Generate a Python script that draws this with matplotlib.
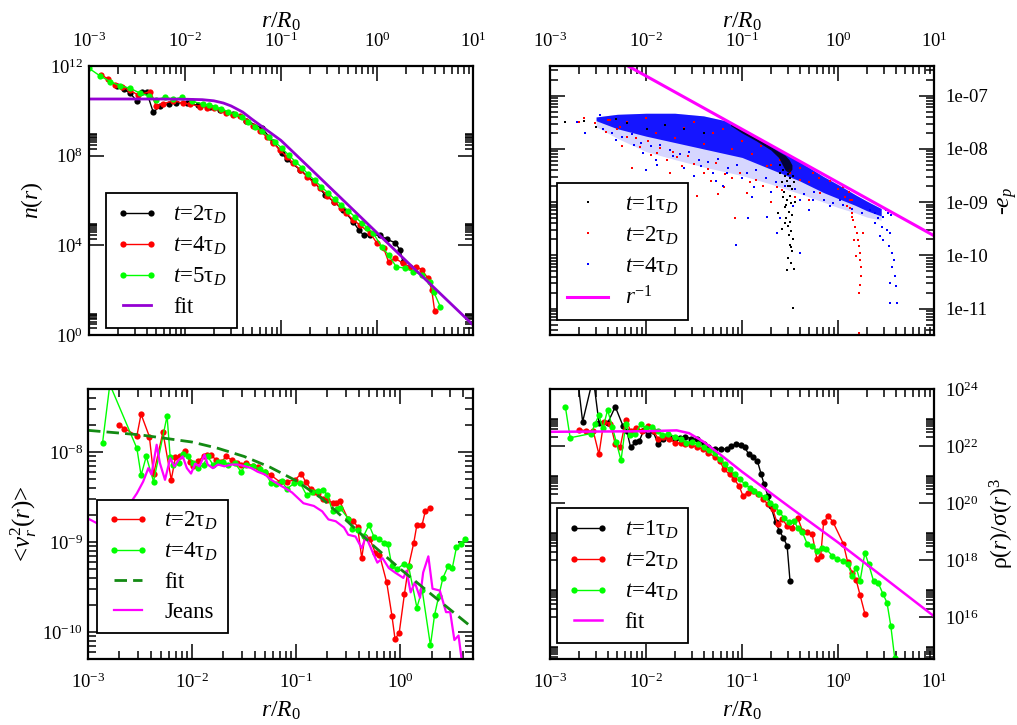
import matplotlib
matplotlib.use('Agg')
import matplotlib.pyplot as plt
from matplotlib.lines import Line2D
from matplotlib.ticker import NullFormatter
import numpy as np

plt.rcParams['font.family'] = 'Liberation Serif'
plt.rcParams['mathtext.fontset'] = 'custom'
plt.rcParams['mathtext.rm'] = 'Liberation Serif'
plt.rcParams['mathtext.it'] = 'Liberation Serif:italic'
plt.rcParams['mathtext.bf'] = 'Liberation Serif:bold'

# all series below are (log10 r/R0, log10 value) pairs

# --- panel n(r) ---
n_t2 = [(-2.71, 11.12), (-2.64, 10.97), (-2.57, 10.79), (-2.50, 10.42), (-2.45, 10.82),
        (-2.40, 10.85), (-2.33, 9.93), (-2.26, 10.22), (-2.17, 10.31), (-2.09, 10.37),
        (-1.98, 10.34), (-1.86, 10.25), (-1.74, 10.16), (-1.64, 10.04), (-1.50, 9.87),
        (-1.36, 9.57), (-1.20, 9.23), (-1.08, 8.63), (-0.99, 8.11), (-0.94, 7.84),
        (-0.80, 7.37), (-0.66, 6.85), (-0.54, 6.25), (-0.45, 5.95), (-0.35, 5.58),
        (-0.25, 5.06), (-0.19, 4.69), (-0.14, 4.46), (-0.07, 4.46), (0.03, 4.46),
        (0.10, 4.27), (0.19, 4.12), (0.24, 3.79), (0.27, 3.27)]
n_t4 = [(-2.87, 11.61), (-2.80, 11.41), (-2.73, 11.16), (-2.66, 11.06), (-2.57, 10.91),
        (-2.49, 10.71), (-2.36, 10.86), (-2.30, 10.22), (-2.23, 10.31), (-2.12, 10.46),
        (-2.02, 10.34), (-1.95, 10.31), (-1.84, 10.19), (-1.77, 10.15), (-1.70, 10.12),
        (-1.63, 10.02), (-1.57, 9.90), (-1.50, 9.82), (-1.43, 9.75), (-1.36, 9.55),
        (-1.29, 9.33), (-1.22, 9.10), (-1.15, 8.85), (-1.08, 8.55), (-1.01, 8.26),
        (-0.94, 7.95), (-0.87, 7.66), (-0.80, 7.36), (-0.73, 7.07), (-0.66, 6.80),
        (-0.59, 6.55), (-0.52, 6.22), (-0.45, 5.95), (-0.38, 5.68), (-0.32, 5.43),
        (-0.25, 5.15), (-0.18, 4.91), (-0.07, 4.54), (0.00, 4.09), (0.07, 3.87),
        (0.12, 3.27), (0.19, 3.42), (0.27, 3.20), (0.34, 3.05), (0.41, 3.05),
        (0.47, 2.90), (0.53, 2.53), (0.57, 2.01), (0.60, 1.09)]
n_t5 = [(-3.00, 11.90), (-2.885, 11.56), (-2.78, 11.31), (-2.68, 11.12), (-2.57, 11.01),
        (-2.47, 10.79), (-2.38, 10.67), (-2.30, 10.49), (-2.21, 10.61), (-2.12, 10.52),
        (-2.03, 10.61), (-1.93, 10.42), (-1.81, 10.31), (-1.75, 10.25), (-1.69, 10.19),
        (-1.62, 10.08), (-1.55, 9.97), (-1.48, 9.86), (-1.41, 9.72), (-1.34, 9.52),
        (-1.27, 9.30), (-1.20, 9.08), (-1.13, 8.85), (-1.06, 8.60), (-0.99, 8.33),
        (-0.92, 8.03), (-0.85, 7.74), (-0.78, 7.46), (-0.72, 7.19), (-0.65, 6.90),
        (-0.58, 6.62), (-0.51, 6.34), (-0.44, 6.06), (-0.37, 5.80), (-0.30, 5.55),
        (-0.23, 5.27), (-0.16, 5.01), (-0.10, 4.78), (-0.04, 4.54), (0.05, 3.94),
        (0.12, 3.57), (0.20, 3.05), (0.29, 2.98), (0.38, 2.83), (0.47, 2.68),
        (0.55, 2.38), (0.59, 1.93), (0.66, 1.26)]
n_fit = [(-3.0, 10.53), (-2.3, 10.53), (-2.0, 10.52), (-1.82, 10.50), (-1.70, 10.45),
         (-1.60, 10.35), (-1.52, 10.22), (-1.40, 9.95), (-1.30, 9.62), (-1.15, 9.15),
         (-1.0, 8.68), (-0.7, 7.45), (-0.3, 5.80), (0.0, 4.56), (0.3, 3.32),
         (0.7, 1.68), (1.0, 0.45)]

# --- panel -e_p (scatter) ---
ep_core_x = [-2.52, -2.30, -2.0, -1.70, -1.40, -1.15, -1.0, -0.70, -0.40, -0.15, 0.0, 0.18, 0.30, 0.45]
ep_core_hi = [-7.40, -7.35, -7.33, -7.33, -7.38, -7.48, -7.64, -7.94, -8.24, -8.52, -8.67, -8.86, -8.98, -9.12]
ep_core_lo = [-7.47, -7.62, -7.76, -7.88, -8.00, -8.10, -8.16, -8.38, -8.60, -8.82, -8.93, -9.06, -9.16, -9.26]
ep_halo_lo = [-7.58, -7.80, -8.05, -8.20, -8.34, -8.44, -8.50, -8.66, -8.84, -9.00, -9.10, -9.20, -9.28, -9.34]
ep_t1_core_x = [-1.12, -1.0, -0.85, -0.70, -0.62, -0.55, -0.51, -0.48]
ep_t1_core_hi = [-7.52, -7.65, -7.80, -7.96, -8.05, -8.12, -8.20, -8.30]
ep_t1_core_lo = [-7.56, -7.70, -7.85, -8.02, -8.16, -8.40, -8.45, -8.38]
ep_t1 = [(-2.84, -7.49), (-2.65, -7.47), (-2.52, -7.58), (-2.31, -7.44), (-2.20, -7.52),
         (-1.99, -7.63), (-1.80, -7.55), (-1.60, -7.62), (-1.40, -7.70),
         (-0.60, -8.45), (-0.55, -8.50), (-0.50, -8.55), (-0.58, -8.62), (-0.52, -8.70),
         (-0.48, -8.75), (-0.56, -8.80), (-0.50, -8.88), (-0.53, -8.95), (-0.49, -9.02),
         (-0.55, -9.10), (-0.51, -9.18), (-0.48, -9.25), (-0.54, -9.30), (-0.50, -9.38),
         (-0.52, -9.45), (-0.49, -9.55), (-0.51, -9.62), (-0.47, -9.70), (-0.50, -9.80),
         (-0.48, -9.92), (-0.52, -10.05), (-0.49, -10.15), (-0.46, -10.25), (-0.53, -10.28),
         (-0.47, -10.98), (-0.58, -9.50), (-0.62, -9.20), (-0.45, -9.00), (-0.57, -8.90),
         (-0.53, -8.60), (-0.50, -8.70), (-0.47, -8.50), (-0.55, -9.40), (-0.49, -9.85),
         (-0.60, -8.30), (-0.57, -8.40), (-0.52, -8.48), (-0.46, -8.62), (-0.54, -9.05)]
ep_t2 = [(-2.70, -7.50), (-2.65, -7.41), (-2.53, -7.52), (-2.48, -7.36), (-2.37, -7.46),
         (-2.27, -7.58), (-2.20, -7.77), (-2.15, -8.36), (-2.06, -7.96), (-1.98, -7.86),
         (-1.89, -8.08), (-1.78, -8.21), (-1.72, -8.05), (-1.63, -8.33), (-1.56, -8.14),
         (-1.47, -8.89), (-1.40, -8.46), (-1.32, -8.61), (-1.27, -8.27), (-1.19, -8.71),
         (-1.07, -9.30), (-1.02, -8.46), (-0.95, -8.83), (-0.85, -8.58), (-0.74, -8.33),
         (-0.64, -8.71), (-0.50, -8.40), (-0.40, -8.58), (-0.26, -8.46), (-0.19, -8.83),
         (-0.08, -8.61),
         (-2.40, -7.45), (-2.20, -7.50), (-2.00, -7.42), (-1.80, -7.55), (-1.60, -7.60),
         (-1.50, -7.50), (-1.30, -7.70), (-1.20, -7.62), (-1.00, -7.85), (-0.80, -7.95),
         (-0.60, -8.20), (-0.40, -8.35), (-0.20, -8.55), (0.00, -8.75), (-2.30, -7.62),
         (-1.90, -7.70), (-1.70, -7.80), (-1.40, -7.90), (-1.10, -8.00), (-0.90, -8.10),
         (-0.70, -8.30), (-0.50, -8.45), (-0.30, -8.62),
         (-2.42, -7.68), (-2.10, -7.80), (-1.85, -7.98), (-1.68, -8.15), (-1.50, -8.28),
         (-1.35, -8.38), (-1.18, -8.48), (-1.10, -8.55), (-0.92, -8.62), (-0.78, -8.70),
         (-0.58, -8.78), (-0.45, -8.90), (-0.30, -8.95), (-1.95, -8.12), (-1.75, -8.45),
         (-1.25, -8.85), (-0.70, -9.00), (-2.25, -7.95),
         (0.05, -8.71), (0.11, -8.80), (0.13, -8.96), (0.09, -9.08), (0.15, -9.21),
         (0.16, -9.33), (0.18, -9.46), (0.20, -9.58), (0.21, -9.71), (0.22, -9.83),
         (0.23, -9.96), (0.23, -10.08), (0.24, -10.21), (0.24, -10.39), (0.23, -10.55),
         (0.22, -10.71), (0.22, -11.45), (0.15, -9.27), (0.12, -9.11), (0.26, -9.58),
         (0.17, -9.71), (0.19, -10.02), (0.15, -8.96), (0.07, -8.90)]
ep_t4 = [(-2.64, -7.71), (-2.72, -7.49), (-2.48, -7.36), (-2.13, -7.93), (-1.89, -8.30),
         (-1.58, -8.68), (-1.27, -8.61), (-1.06, -9.80), (-0.94, -9.30), (-0.74, -9.27),
         (-0.64, -9.58), (-0.40, -9.96), (-0.26, -8.96), (-0.47, -9.08), (-0.88, -8.71),
         (-1.16, -8.46), (-1.43, -8.33), (-1.72, -8.14), (-2.03, -8.08), (-2.31, -7.83),
         (-0.08, -9.08), (0.02, -8.96), (0.50, -9.15), (0.52, -9.20), (0.55, -9.25),
         (-2.45, -7.62), (-2.35, -7.70), (-2.25, -7.78), (-2.15, -7.72), (-2.05, -7.88),
         (-1.95, -7.95), (-1.85, -7.92), (-1.75, -8.02), (-1.65, -8.10), (-1.55, -8.05),
         (-1.45, -8.20), (-1.35, -8.25), (-1.25, -8.18), (-1.15, -8.35), (-1.05, -8.30),
         (-0.95, -8.45), (-0.85, -8.40), (-0.75, -8.55), (-0.65, -8.62), (-0.55, -8.70),
         (-0.45, -8.75), (-0.35, -8.85), (-0.25, -8.80), (-0.15, -8.95), (-0.05, -9.02),
         (0.05, -9.05), (0.15, -9.12), (0.25, -9.20), (-1.90, -8.20), (-1.60, -8.35),
         (-1.30, -8.45), (-1.00, -8.55), (-0.70, -8.80), (-0.40, -8.95), (-2.00, -8.40),
         (-1.20, -8.70), (-0.90, -8.90), (-0.30, -9.15), (-1.50, -8.50), (-0.60, -9.30),
         (0.33, -9.14), (0.39, -9.21), (0.42, -9.30), (0.47, -9.27), (0.46, -9.46),
         (0.51, -9.52), (0.54, -9.58), (0.47, -9.71), (0.53, -9.83), (0.56, -9.96),
         (0.58, -10.08), (0.56, -10.21), (0.59, -10.39), (0.54, -10.52), (0.60, -10.58),
         (0.54, -10.89), (0.61, -10.89), (0.44, -9.64), (0.39, -9.40)]
ep_rinv = [(-3.0, -5.63), (1.0, -9.63)]

# --- panel <v_r^2(r)> ---
v_t2 = [(-2.70, -7.70), (-2.65, -7.74), (-2.53, -7.82), (-2.49, -7.58), (-2.41, -7.83),
        (-2.37, -8.25), (-2.28, -7.78), (-2.20, -8.31), (-2.16, -8.06), (-2.12, -8.05),
        (-2.07, -7.99), (-2.02, -8.11), (-1.99, -8.16), (-1.94, -8.10), (-1.89, -8.05),
        (-1.86, -8.03), (-1.82, -8.03), (-1.77, -8.09), (-1.72, -8.11), (-1.67, -8.05),
        (-1.62, -8.09), (-1.57, -8.12), (-1.53, -8.14), (-1.48, -8.12), (-1.41, -8.16),
        (-1.37, -8.17), (-1.30, -8.22), (-1.24, -8.26), (-1.16, -8.33), (-1.09, -8.33),
        (-1.01, -8.31), (-0.95, -8.24), (-0.91, -8.33), (-0.86, -8.41), (-0.83, -8.45),
        (-0.79, -8.46), (-0.74, -8.52), (-0.70, -8.53), (-0.65, -8.57), (-0.62, -8.57),
        (-0.58, -8.55), (-0.50, -8.75), (-0.45, -8.77), (-0.41, -8.83), (-0.37, -9.18),
        (-0.34, -8.94), (-0.29, -8.97), (-0.24, -9.12), (-0.20, -9.14), (-0.13, -9.45),
        (-0.08, -9.82), (-0.05, -10.08), (-0.01, -10.01), (0.04, -9.58), (0.08, -9.27),
        (0.13, -9.01), (0.16, -8.81), (0.21, -8.81), (0.24, -8.66), (0.29, -8.62)]
v_t4 = [(-2.86, -7.90), (-2.79, -7.25), (-2.53, -7.96), (-2.49, -8.26), (-2.44, -8.05),
        (-2.37, -8.33), (-2.24, -7.60), (-2.21, -8.06), (-2.18, -8.15), (-2.13, -8.12),
        (-2.09, -8.02), (-2.04, -8.05), (-1.99, -8.12), (-1.94, -8.18), (-1.89, -8.14),
        (-1.85, -8.05), (-1.80, -8.14), (-1.75, -8.11), (-1.70, -8.11), (-1.65, -8.14),
        (-1.59, -8.12), (-1.53, -8.22), (-1.48, -8.14), (-1.41, -8.16), (-1.35, -8.19),
        (-1.30, -8.22), (-1.24, -8.35), (-1.19, -8.36), (-1.14, -8.32), (-1.09, -8.41),
        (-1.02, -8.35), (-0.96, -8.35), (-0.90, -8.48), (-0.85, -8.45), (-0.79, -8.43),
        (-0.74, -8.42), (-0.70, -8.48), (-0.65, -8.66), (-0.61, -8.63), (-0.58, -8.62),
        (-0.50, -8.74), (-0.46, -8.86), (-0.41, -8.87), (-0.35, -8.93), (-0.30, -8.81),
        (-0.25, -8.95), (-0.20, -8.97), (-0.16, -9.01), (-0.12, -9.02), (-0.08, -9.27),
        (-0.03, -9.30), (0.04, -9.24), (0.08, -9.27), (0.16, -9.73), (0.21, -9.53),
        (0.29, -10.15), (0.33, -9.81), (0.37, -9.60), (0.41, -9.40), (0.46, -9.27),
        (0.50, -9.29), (0.54, -9.06), (0.58, -9.02), (0.62, -8.97)]
v_fit = [(-3.0, -7.76), (-2.5, -7.81), (-2.0, -7.89), (-1.75, -7.96), (-1.5, -8.05),
         (-1.25, -8.17), (-1.0, -8.32), (-0.75, -8.52), (-0.5, -8.78), (-0.25, -9.05),
         (0.0, -9.30), (0.35, -9.63), (0.70, -9.96)]
v_jeans = [(-3.0, -8.74), (-2.9, -8.80), (-2.75, -8.75), (-2.6, -8.58), (-2.53, -8.46),
           (-2.47, -8.33), (-2.42, -8.18), (-2.39, -8.25), (-2.34, -7.92), (-2.31, -8.12),
           (-2.26, -8.31), (-2.21, -8.07), (-2.17, -8.16), (-2.13, -8.09), (-2.09, -8.05),
           (-2.05, -8.18), (-2.01, -8.24), (-1.97, -8.13), (-1.93, -8.16), (-1.88, -8.03),
           (-1.85, -8.14), (-1.80, -8.18), (-1.75, -8.14), (-1.69, -8.16), (-1.62, -8.14),
           (-1.56, -8.14), (-1.49, -8.16), (-1.43, -8.18), (-1.37, -8.22), (-1.30, -8.25),
           (-1.24, -8.31), (-1.17, -8.36), (-1.11, -8.40), (-1.04, -8.45), (-0.93, -8.57),
           (-0.83, -8.60), (-0.75, -8.66), (-0.69, -8.75), (-0.62, -8.77), (-0.54, -8.84),
           (-0.50, -8.92), (-0.43, -8.94), (-0.37, -9.07), (-0.33, -8.94), (-0.27, -9.10),
           (-0.22, -9.23), (-0.17, -9.18), (-0.11, -9.29), (-0.05, -9.34), (0.03, -9.40),
           (0.06, -9.32), (0.10, -9.56), (0.14, -9.45), (0.19, -9.62), (0.22, -9.34),
           (0.27, -9.16), (0.31, -9.52), (0.38, -9.54), (0.44, -9.78), (0.48, -9.78),
           (0.52, -10.09), (0.56, -10.04), (0.60, -10.40)]

# --- panel rho/sigma^3 ---
q_t1 = [(-2.72, 24.6), (-2.66, 22.85), (-2.55, 24.4), (-2.49, 22.82), (-2.40, 22.80),
        (-2.32, 23.38), (-2.24, 22.71), (-2.20, 22.53), (-2.16, 21.95), (-2.11, 22.14),
        (-2.07, 22.18), (-2.02, 22.58), (-1.98, 22.40), (-1.93, 22.53), (-1.87, 22.06),
        (-1.82, 22.23), (-1.76, 22.33), (-1.70, 22.23), (-1.65, 22.29), (-1.59, 22.33),
        (-1.53, 22.26), (-1.47, 22.23), (-1.40, 22.06), (-1.35, 21.95), (-1.28, 21.89),
        (-1.22, 21.91), (-1.16, 21.89), (-1.11, 22.00), (-1.06, 22.06), (-1.01, 22.02),
        (-0.97, 21.95), (-0.93, 21.71), (-0.89, 21.60), (-0.84, 21.48), (-0.80, 21.01),
        (-0.77, 20.66), (-0.73, 20.25), (-0.70, 19.90), (-0.65, 19.32), (-0.61, 19.02),
        (-0.57, 18.79), (-0.53, 18.50), (-0.50, 17.27)]
q_t2 = [(-2.70, 22.58), (-2.62, 22.53), (-2.55, 22.53), (-2.49, 21.71), (-2.44, 22.85),
        (-2.37, 22.79), (-2.32, 22.06), (-2.27, 21.95), (-2.21, 22.91), (-2.16, 22.53),
        (-2.10, 22.65), (-2.04, 22.53), (-1.98, 22.71), (-1.92, 22.53), (-1.87, 22.23),
        (-1.82, 22.33), (-1.76, 22.26), (-1.70, 22.12), (-1.64, 22.09), (-1.59, 22.06),
        (-1.53, 22.02), (-1.47, 21.98), (-1.41, 21.89), (-1.35, 21.77), (-1.28, 21.60),
        (-1.23, 21.48), (-1.19, 21.19), (-1.13, 21.01), (-1.08, 20.83), (-1.03, 20.60),
        (-0.99, 20.25), (-0.94, 20.37), (-0.89, 20.43), (-0.83, 20.32), (-0.78, 20.14),
        (-0.73, 19.96), (-0.68, 19.79), (-0.63, 19.26), (-0.58, 19.44), (-0.53, 19.20),
        (-0.48, 19.14), (-0.42, 19.49), (-0.37, 19.02), (-0.32, 18.97), (-0.27, 18.91),
        (-0.22, 18.05), (-0.18, 18.15), (-0.15, 19.32), (-0.10, 19.55), (-0.05, 19.32),
        (0.055, 18.58), (0.10, 17.94), (0.15, 17.53), (0.19, 17.29), (0.23, 16.77),
        (0.28, 16.12)]
q_t4 = [(-2.84, 23.38), (-2.79, 22.29), (-2.57, 22.44), (-2.53, 22.79), (-2.49, 23.08),
        (-2.45, 22.62), (-2.40, 23.26), (-2.35, 22.67), (-2.31, 22.14), (-2.26, 21.50),
        (-2.21, 22.79), (-2.17, 22.38), (-2.11, 22.44), (-2.05, 22.79), (-2.00, 22.62),
        (-1.94, 22.67), (-1.88, 22.53), (-1.83, 22.38), (-1.77, 22.44), (-1.70, 22.33),
        (-1.64, 22.26), (-1.58, 22.12), (-1.52, 22.14), (-1.46, 22.06), (-1.40, 21.98),
        (-1.34, 21.86), (-1.28, 21.74), (-1.23, 21.53), (-1.18, 21.36), (-1.13, 21.19),
        (-1.07, 21.01), (-1.02, 20.83), (-0.97, 20.66), (-0.92, 20.54), (-0.87, 20.43),
        (-0.82, 20.32), (-0.76, 20.20), (-0.71, 20.02), (-0.66, 19.91), (-0.61, 19.67),
        (-0.56, 19.49), (-0.51, 19.32), (-0.46, 19.38), (-0.42, 19.14), (-0.37, 18.97),
        (-0.32, 18.56), (-0.27, 18.50), (-0.22, 18.32), (-0.17, 18.44), (-0.12, 18.38),
        (-0.06, 18.15), (-0.01, 18.03), (0.05, 17.97), (0.10, 17.85), (0.15, 17.44),
        (0.19, 17.73), (0.23, 17.27), (0.28, 18.26), (0.32, 17.85), (0.37, 17.27),
        (0.42, 17.19), (0.47, 16.80), (0.51, 16.51), (0.55, 15.69), (0.59, 14.58),
        (0.61, 14.0)]
q_fit = [(-3.0, 22.50), (-2.0, 22.52), (-1.68, 22.55), (-1.55, 22.45), (-1.40, 22.15),
         (-1.24, 21.74), (-1.0, 21.10), (-0.5, 19.85), (0.0, 18.62), (0.5, 17.33),
         (1.0, 16.03)]

x_ticks = [1e-3, 1e-2, 1e-1, 1e0, 1e1]
x_labels = [r'$10^{-3}$', r'$10^{-2}$', r'$10^{-1}$', r'$10^{0}$', r'$10^{1}$']
n_ticks = [1e0, 1e4, 1e8, 1e12]
n_labels = [r'$10^{0}$', r'$10^{4}$', r'$10^{8}$', r'$10^{12}$']
ep_ticks = [1e-11, 1e-10, 1e-9, 1e-8, 1e-7]
ep_labels = ['1e-11', '1e-10', '1e-09', '1e-08', '1e-07']
v_ticks = [1e-10, 1e-9, 1e-8]
v_labels = [r'$10^{-10}$', r'$10^{-9}$', r'$10^{-8}$']
q_ticks = [1e16, 1e18, 1e20, 1e22, 1e24]
q_labels = [r'$10^{16}$', r'$10^{18}$', r'$10^{20}$', r'$10^{22}$', r'$10^{24}$']


def xy(p):
    a = np.array(p, dtype=float)
    return 10 ** a[:, 0], 10 ** a[:, 1]


def minors(exps):
    return [k * 10.0 ** e for e in exps for k in range(2, 10)]


def style(ax, xlim, ylim, yt, yl, ymin, top, right, ypad):
    ax.set_xscale('log')
    ax.set_yscale('log')
    ax.set_xticks(x_ticks, x_labels)
    ax.set_xticks(minors(range(-3, 1)), minor=True)
    ax.set_yticks(yt, yl)
    ax.set_yticks(ymin, minor=True)
    ax.xaxis.set_minor_formatter(NullFormatter())
    ax.yaxis.set_minor_formatter(NullFormatter())
    ax.set_xlim(*xlim)
    ax.set_ylim(*ylim)
    ax.tick_params(which='both', direction='in', top=True, bottom=True,
                   left=True, right=True, width=1.1, labelsize=13.5)
    ax.tick_params(which='major', length=11)
    ax.tick_params(which='minor', length=5.5)
    ax.tick_params(axis='x', labeltop=top, labelbottom=not top, pad=11 if top else 10)
    ax.tick_params(axis='y', labelleft=not right, labelright=right, pad=ypad)
    for s in ax.spines.values():
        s.set_linewidth(1.6)
    if top:
        ax.xaxis.set_label_position('top')
    if right:
        ax.yaxis.set_label_position('right')
    ax.set_xlabel(r'$r/R_0$', fontsize=17, labelpad=3 if top else 5)


def legend(ax, handles, x, y, npts=2):
    lg = ax.legend(handles=handles, loc='lower left', bbox_to_anchor=(x, y),
                   fontsize=16.5, frameon=True, fancybox=False, framealpha=1,
                   edgecolor='black', handlelength=1.8, handletextpad=0.7,
                   labelspacing=0.38, borderpad=0.45, borderaxespad=0,
                   numpoints=npts)
    lg.get_frame().set_linewidth(1.3)


lab_t1 = r'$t$=1τ$_D$'
lab_t2 = r'$t$=2τ$_D$'
lab_t4 = r'$t$=4τ$_D$'
lab_t5 = r'$t$=5τ$_D$'

fig = plt.figure(figsize=(10.17, 7.25), dpi=100)
ax_n = fig.add_axes([0.0875, 0.5379, 0.3776, 0.3710])
ax_e = fig.add_axes([0.5408, 0.5379, 0.3776, 0.3710])
ax_v = fig.add_axes([0.0865, 0.0910, 0.3786, 0.3724])
ax_q = fig.add_axes([0.5408, 0.0910, 0.3776, 0.3724])

# n(r)
mk = dict(marker='o', ms=4.5, lw=1.0, mew=0)
h1, = ax_n.plot(*xy(n_t2), color='black', label=lab_t2, **mk)
h2, = ax_n.plot(*xy(n_t4), color='#ff0000', label=lab_t4, **mk)
h3, = ax_n.plot(*xy(n_t5), color='#00ff00', label=lab_t5, **mk)
h4, = ax_n.plot(*xy(n_fit), color='#9400d3', lw=2.0, label='fit')
style(ax_n, (1e-3, 10), (1e0, 1e12), n_ticks, n_labels, minors([0, 4, 8]), True, False, 4)
ax_n.set_ylabel(r'$n(r)$', fontsize=17, labelpad=4)
legend(ax_n, [h1, h2, h3, h4], 0.044, 0.026)

# -e_p
cx = 10 ** np.array(ep_core_x)
ax_e.fill_between(cx, 10 ** np.array(ep_halo_lo), 10 ** np.array(ep_core_hi),
                  color='#0000ff', alpha=0.16, lw=0)
ax_e.fill_between(cx, 10 ** np.array(ep_core_lo), 10 ** np.array(ep_core_hi),
                  color='#0000ff', alpha=0.9, lw=0)
sc = dict(marker='s', s=4, lw=0)
ax_e.scatter(*xy(ep_t2), color='#ff0000', **sc)
bx = 10 ** np.array(ep_t1_core_x)
ax_e.fill_between(bx, 10 ** np.array(ep_t1_core_lo), 10 ** np.array(ep_t1_core_hi),
                  color='black', alpha=0.8, lw=0)
ax_e.scatter(*xy(ep_t1), color='black', **sc)
ax_e.scatter(*xy(ep_t4), color='#0000ff', **sc)
g4, = ax_e.plot(*xy(ep_rinv), color='#ff00ff', lw=2.2, label=r'$r^{-1}$')
dot = dict(marker='s', ms=1.8, ls='none', mew=0)
g1 = Line2D([], [], color='black', label=lab_t1, **dot)
g2 = Line2D([], [], color='#ff0000', label=lab_t2, **dot)
g3 = Line2D([], [], color='#0000ff', label=lab_t4, **dot)
style(ax_e, (1e-3, 10), (3.2e-12, 3.6e-7), ep_ticks, ep_labels, minors(range(-12, -6)),
      True, True, 8)
ax_e.set_ylabel(r'-$e_p$', fontsize=17, labelpad=6)
legend(ax_e, [g1, g2, g3, g4], 0.018, 0.056, npts=1)

# <v_r^2>
k1, = ax_v.plot(*xy(v_t2), color='#ff0000', label=lab_t2, **mk)
k2, = ax_v.plot(*xy(v_t4), color='#00ff00', label=lab_t4, **mk)
k4, = ax_v.plot(*xy(v_jeans), color='#ff00ff', lw=1.6, label='Jeans')
k3, = ax_v.plot(*xy(v_fit), color='#138a13', lw=2.0, ls=(0, (4.5, 2.2)), label='fit')
style(ax_v, (1e-3, 5), (5e-11, 5e-8), v_ticks, v_labels, minors(range(-11, -7)),
      False, False, 3.5)
ax_v.set_ylabel(r'<$v_r^2(r)$>', fontsize=18, labelpad=2)
legend(ax_v, [k1, k2, k3, k4], 0.023, 0.096)

# rho / sigma^3
q1, = ax_q.plot(*xy(q_t1), color='black', label=lab_t1, **mk)
q2, = ax_q.plot(*xy(q_t2), color='#ff0000', label=lab_t2, **mk)
q3, = ax_q.plot(*xy(q_t4), color='#00ff00', label=lab_t4, **mk)
q4, = ax_q.plot(*xy(q_fit), color='#ff00ff', lw=1.8, label='fit')
style(ax_q, (1e-3, 10), (10 ** 14.53, 1e24), q_ticks, q_labels, minors(range(14, 24, 2)),
      False, True, 8)
ax_q.set_ylabel(r'ρ$(r)$/σ$(r)^3$', fontsize=17, labelpad=6)
legend(ax_q, [q1, q2, q3, q4], 0.018, 0.059)

fig.savefig('out.png', dpi=100)
